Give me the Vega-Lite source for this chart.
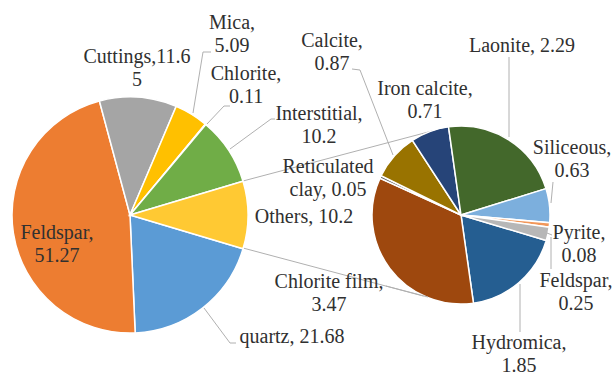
{
  "$schema": "https://vega.github.io/schema/vega-lite/v6.json",
  "width": 612,
  "height": 374,
  "padding": 0,
  "autosize": {"type": "fit", "contains": "padding"},
  "background": "#ffffff",
  "config": {
    "view": {"stroke": null},
    "arc": {"stroke": "#ffffff", "strokeWidth": 1.5}
  },
  "data": {
    "values": [
      {"pie": "main", "mineral": "quartz", "value": 21.68},
      {"pie": "main", "mineral": "Feldspar", "value": 51.27},
      {"pie": "main", "mineral": "Cuttings", "value": 11.65},
      {"pie": "main", "mineral": "Mica", "value": 5.09},
      {"pie": "main", "mineral": "Chlorite", "value": 0.11},
      {"pie": "main", "mineral": "Interstitial", "value": 10.2},
      {"pie": "main", "mineral": "Others", "value": 10.2},
      {"pie": "detail", "mineral": "Hydromica", "value": 1.85},
      {"pie": "detail", "mineral": "Chlorite film", "value": 3.47},
      {"pie": "detail", "mineral": "Reticulated clay", "value": 0.05},
      {"pie": "detail", "mineral": "Calcite", "value": 0.87},
      {"pie": "detail", "mineral": "Iron calcite", "value": 0.71},
      {"pie": "detail", "mineral": "Laonite", "value": 2.29},
      {"pie": "detail", "mineral": "Siliceous", "value": 0.63},
      {"pie": "detail", "mineral": "Pyrite", "value": 0.08},
      {"pie": "detail", "mineral": "Feldspar", "value": 0.25}
    ]
  },
  "transform": [
    {"window": [{"op": "row_number", "as": "k"}]},
    {"calculate": "datum.mineral + ', ' + datum.value", "as": "oneLine"},
    {"calculate": "datum.mineral + ',\\n' + datum.value", "as": "twoLine"}
  ],
  "resolve": {"scale": {"color": "independent"}},
  "layer": [
    {"data": {"values": [{}]}, "mark": {"type": "rule", "color": "#B0B0B0", "strokeWidth": 1}, "encoding": {"x": {"value": 243}, "y": {"value": 181}, "x2": {"value": 432}, "y2": {"value": 131}}},
    {"data": {"values": [{}]}, "mark": {"type": "rule", "color": "#B0B0B0", "strokeWidth": 1}, "encoding": {"x": {"value": 243}, "y": {"value": 248}, "x2": {"value": 442}, "y2": {"value": 301}}},
    {
      "transform": [{"filter": "datum.pie == 'main'"}],
      "mark": {"type": "arc", "x": 130, "y": 215, "outerRadius": 118},
      "encoding": {
        "theta": {"field": "value", "type": "quantitative", "stack": "normalize", "scale": {"range": [1.86157, 8.14476]}},
        "order": {"field": "k", "type": "quantitative"},
        "color": {
          "field": "mineral", "type": "nominal", "legend": null,
          "scale": {
            "domain": ["quartz", "Feldspar", "Cuttings", "Mica", "Chlorite", "Interstitial", "Others"],
            "range": ["#5B9BD5", "#ED7D31", "#A5A5A5", "#FFC000", "#4472C4", "#70AD47", "#FFC933"]
          }
        }
      }
    },
    {
      "transform": [{"filter": "datum.pie == 'detail'"}],
      "mark": {"type": "arc", "x": 461, "y": 215, "outerRadius": 89},
      "encoding": {
        "theta": {"field": "value", "type": "quantitative", "stack": "normalize", "scale": {"range": [1.86157, 8.14476]}},
        "order": {"field": "k", "type": "quantitative"},
        "color": {
          "field": "mineral", "type": "nominal", "legend": null,
          "scale": {
            "domain": ["Hydromica", "Chlorite film", "Reticulated clay", "Calcite", "Iron calcite", "Laonite", "Siliceous", "Pyrite", "Feldspar"],
            "range": ["#255E91", "#9E480E", "#636363", "#997300", "#264478", "#43682B", "#7CAFDD", "#F1975A", "#B7B7B7"]
          }
        }
      }
    },
    {"data": {"values": [{}]}, "mark": {"type": "rule", "color": "#B0B0B0", "strokeWidth": 1}, "encoding": {"x": {"value": 193}, "y": {"value": 113}, "x2": {"value": 203}, "y2": {"value": 52}}},
    {"data": {"values": [{}]}, "mark": {"type": "rule", "color": "#B0B0B0", "strokeWidth": 1}, "encoding": {"x": {"value": 203}, "y": {"value": 52}, "x2": {"value": 211}, "y2": {"value": 52}}},
    {"data": {"values": [{}]}, "mark": {"type": "rule", "color": "#B0B0B0", "strokeWidth": 1}, "encoding": {"x": {"value": 207}, "y": {"value": 124}, "x2": {"value": 224}, "y2": {"value": 106}}},
    {"data": {"values": [{}]}, "mark": {"type": "rule", "color": "#B0B0B0", "strokeWidth": 1}, "encoding": {"x": {"value": 224}, "y": {"value": 106}, "x2": {"value": 230}, "y2": {"value": 106}}},
    {"data": {"values": [{}]}, "mark": {"type": "rule", "color": "#B0B0B0", "strokeWidth": 1}, "encoding": {"x": {"value": 230}, "y": {"value": 149}, "x2": {"value": 271}, "y2": {"value": 119}}},
    {"data": {"values": [{}]}, "mark": {"type": "rule", "color": "#B0B0B0", "strokeWidth": 1}, "encoding": {"x": {"value": 271}, "y": {"value": 119}, "x2": {"value": 275}, "y2": {"value": 119}}},
    {"data": {"values": [{}]}, "mark": {"type": "rule", "color": "#B0B0B0", "strokeWidth": 1}, "encoding": {"x": {"value": 204}, "y": {"value": 308}, "x2": {"value": 230}, "y2": {"value": 343}}},
    {"data": {"values": [{}]}, "mark": {"type": "rule", "color": "#B0B0B0", "strokeWidth": 1}, "encoding": {"x": {"value": 230}, "y": {"value": 343}, "x2": {"value": 236}, "y2": {"value": 343}}},
    {"data": {"values": [{}]}, "mark": {"type": "rule", "color": "#B0B0B0", "strokeWidth": 1}, "encoding": {"x": {"value": 386}, "y": {"value": 286}, "x2": {"value": 428}, "y2": {"value": 297}}},
    {"data": {"values": [{}]}, "mark": {"type": "rule", "color": "#B0B0B0", "strokeWidth": 1}, "encoding": {"x": {"value": 352}, "y": {"value": 69}, "x2": {"value": 360}, "y2": {"value": 70}}},
    {"data": {"values": [{}]}, "mark": {"type": "rule", "color": "#B0B0B0", "strokeWidth": 1}, "encoding": {"x": {"value": 360}, "y": {"value": 70}, "x2": {"value": 393}, "y2": {"value": 155}}},
    {"data": {"values": [{}]}, "mark": {"type": "rule", "color": "#B0B0B0", "strokeWidth": 1}, "encoding": {"x": {"value": 509}, "y": {"value": 57}, "x2": {"value": 509}, "y2": {"value": 137}}},
    {"data": {"values": [{}]}, "mark": {"type": "rule", "color": "#B0B0B0", "strokeWidth": 1}, "encoding": {"x": {"value": 553}, "y": {"value": 182}, "x2": {"value": 551}, "y2": {"value": 203}}},
    {"data": {"values": [{}]}, "mark": {"type": "rule", "color": "#B0B0B0", "strokeWidth": 1}, "encoding": {"x": {"value": 547}, "y": {"value": 233}, "x2": {"value": 552}, "y2": {"value": 235}}},
    {"data": {"values": [{}]}, "mark": {"type": "rule", "color": "#B0B0B0", "strokeWidth": 1}, "encoding": {"x": {"value": 551}, "y": {"value": 237}, "x2": {"value": 551}, "y2": {"value": 269}}},
    {"data": {"values": [{}]}, "mark": {"type": "rule", "color": "#B0B0B0", "strokeWidth": 1}, "encoding": {"x": {"value": 520}, "y": {"value": 284}, "x2": {"value": 520}, "y2": {"value": 332}}},
    {
      "transform": [{"filter": "datum.pie == 'main' && datum.mineral == 'Feldspar'"}],
      "mark": {"type": "text", "font": "Times New Roman, Liberation Serif, DejaVu Serif, serif", "fontSize": 20, "color": "#303030", "align": "center", "baseline": "alphabetic", "lineBreak": "\n", "lineHeight": 22.5, "x": 57, "y": 239},
      "encoding": {"text": {"field": "twoLine", "type": "nominal"}}
    },
    {
      "transform": [
        {"filter": "datum.pie == 'main' && datum.mineral == 'Cuttings'"},
        {"calculate": "datum.mineral + ',' + slice('' + datum.value, 0, 4) + '\\n' + slice('' + datum.value, 4)", "as": "wrapped"}
      ],
      "mark": {"type": "text", "font": "Times New Roman, Liberation Serif, DejaVu Serif, serif", "fontSize": 20, "color": "#303030", "align": "center", "baseline": "alphabetic", "lineBreak": "\n", "lineHeight": 22.5, "x": 137, "y": 63},
      "encoding": {"text": {"field": "wrapped", "type": "nominal"}}
    },
    {
      "transform": [{"filter": "datum.pie == 'main' && datum.mineral == 'Mica'"}],
      "mark": {"type": "text", "font": "Times New Roman, Liberation Serif, DejaVu Serif, serif", "fontSize": 20, "color": "#303030", "align": "center", "baseline": "alphabetic", "lineBreak": "\n", "lineHeight": 22.5, "x": 232, "y": 29},
      "encoding": {"text": {"field": "twoLine", "type": "nominal"}}
    },
    {
      "transform": [{"filter": "datum.pie == 'main' && datum.mineral == 'Chlorite'"}],
      "mark": {"type": "text", "font": "Times New Roman, Liberation Serif, DejaVu Serif, serif", "fontSize": 20, "color": "#303030", "align": "center", "baseline": "alphabetic", "lineBreak": "\n", "lineHeight": 22.5, "x": 246, "y": 80},
      "encoding": {"text": {"field": "twoLine", "type": "nominal"}}
    },
    {
      "transform": [{"filter": "datum.pie == 'main' && datum.mineral == 'Interstitial'"}],
      "mark": {"type": "text", "font": "Times New Roman, Liberation Serif, DejaVu Serif, serif", "fontSize": 20, "color": "#303030", "align": "center", "baseline": "alphabetic", "lineBreak": "\n", "lineHeight": 22.5, "x": 319, "y": 120},
      "encoding": {"text": {"field": "twoLine", "type": "nominal"}}
    },
    {
      "transform": [{"filter": "datum.pie == 'main' && datum.mineral == 'Others'"}],
      "mark": {"type": "text", "font": "Times New Roman, Liberation Serif, DejaVu Serif, serif", "fontSize": 20, "color": "#303030", "align": "center", "baseline": "alphabetic", "lineBreak": "\n", "lineHeight": 22.5, "x": 304, "y": 223},
      "encoding": {"text": {"field": "oneLine", "type": "nominal"}}
    },
    {
      "transform": [{"filter": "datum.pie == 'main' && datum.mineral == 'quartz'"}],
      "mark": {"type": "text", "font": "Times New Roman, Liberation Serif, DejaVu Serif, serif", "fontSize": 20, "color": "#303030", "align": "center", "baseline": "alphabetic", "lineBreak": "\n", "lineHeight": 22.5, "x": 292, "y": 343},
      "encoding": {"text": {"field": "oneLine", "type": "nominal"}}
    },
    {
      "transform": [
        {"filter": "datum.pie == 'detail' && datum.mineral == 'Reticulated clay'"},
        {"calculate": "replace(datum.mineral, ' ', '\\n') + ', ' + datum.value", "as": "wrapped"}
      ],
      "mark": {"type": "text", "font": "Times New Roman, Liberation Serif, DejaVu Serif, serif", "fontSize": 20, "color": "#303030", "align": "center", "baseline": "alphabetic", "lineBreak": "\n", "lineHeight": 22.5, "x": 328, "y": 173},
      "encoding": {"text": {"field": "wrapped", "type": "nominal"}}
    },
    {
      "transform": [{"filter": "datum.pie == 'detail' && datum.mineral == 'Chlorite film'"}],
      "mark": {"type": "text", "font": "Times New Roman, Liberation Serif, DejaVu Serif, serif", "fontSize": 20, "color": "#303030", "align": "center", "baseline": "alphabetic", "lineBreak": "\n", "lineHeight": 22.5, "x": 329, "y": 288},
      "encoding": {"text": {"field": "twoLine", "type": "nominal"}}
    },
    {
      "transform": [{"filter": "datum.pie == 'detail' && datum.mineral == 'Calcite'"}],
      "mark": {"type": "text", "font": "Times New Roman, Liberation Serif, DejaVu Serif, serif", "fontSize": 20, "color": "#303030", "align": "center", "baseline": "alphabetic", "lineBreak": "\n", "lineHeight": 22.5, "x": 332, "y": 47},
      "encoding": {"text": {"field": "twoLine", "type": "nominal"}}
    },
    {
      "transform": [{"filter": "datum.pie == 'detail' && datum.mineral == 'Iron calcite'"}],
      "mark": {"type": "text", "font": "Times New Roman, Liberation Serif, DejaVu Serif, serif", "fontSize": 20, "color": "#303030", "align": "center", "baseline": "alphabetic", "lineBreak": "\n", "lineHeight": 22.5, "x": 425, "y": 95},
      "encoding": {"text": {"field": "twoLine", "type": "nominal"}}
    },
    {
      "transform": [{"filter": "datum.pie == 'detail' && datum.mineral == 'Laonite'"}],
      "mark": {"type": "text", "font": "Times New Roman, Liberation Serif, DejaVu Serif, serif", "fontSize": 20, "color": "#303030", "align": "center", "baseline": "alphabetic", "lineBreak": "\n", "lineHeight": 22.5, "x": 522, "y": 52},
      "encoding": {"text": {"field": "oneLine", "type": "nominal"}}
    },
    {
      "transform": [{"filter": "datum.pie == 'detail' && datum.mineral == 'Siliceous'"}],
      "mark": {"type": "text", "font": "Times New Roman, Liberation Serif, DejaVu Serif, serif", "fontSize": 20, "color": "#303030", "align": "center", "baseline": "alphabetic", "lineBreak": "\n", "lineHeight": 22.5, "x": 572, "y": 154},
      "encoding": {"text": {"field": "twoLine", "type": "nominal"}}
    },
    {
      "transform": [{"filter": "datum.pie == 'detail' && datum.mineral == 'Pyrite'"}],
      "mark": {"type": "text", "font": "Times New Roman, Liberation Serif, DejaVu Serif, serif", "fontSize": 20, "color": "#303030", "align": "center", "baseline": "alphabetic", "lineBreak": "\n", "lineHeight": 22.5, "x": 579, "y": 239},
      "encoding": {"text": {"field": "twoLine", "type": "nominal"}}
    },
    {
      "transform": [{"filter": "datum.pie == 'detail' && datum.mineral == 'Feldspar'"}],
      "mark": {"type": "text", "font": "Times New Roman, Liberation Serif, DejaVu Serif, serif", "fontSize": 20, "color": "#303030", "align": "center", "baseline": "alphabetic", "lineBreak": "\n", "lineHeight": 22.5, "x": 576, "y": 287},
      "encoding": {"text": {"field": "twoLine", "type": "nominal"}}
    },
    {
      "transform": [{"filter": "datum.pie == 'detail' && datum.mineral == 'Hydromica'"}],
      "mark": {"type": "text", "font": "Times New Roman, Liberation Serif, DejaVu Serif, serif", "fontSize": 20, "color": "#303030", "align": "center", "baseline": "alphabetic", "lineBreak": "\n", "lineHeight": 22.5, "x": 519, "y": 349},
      "encoding": {"text": {"field": "twoLine", "type": "nominal"}}
    }
  ]
}
